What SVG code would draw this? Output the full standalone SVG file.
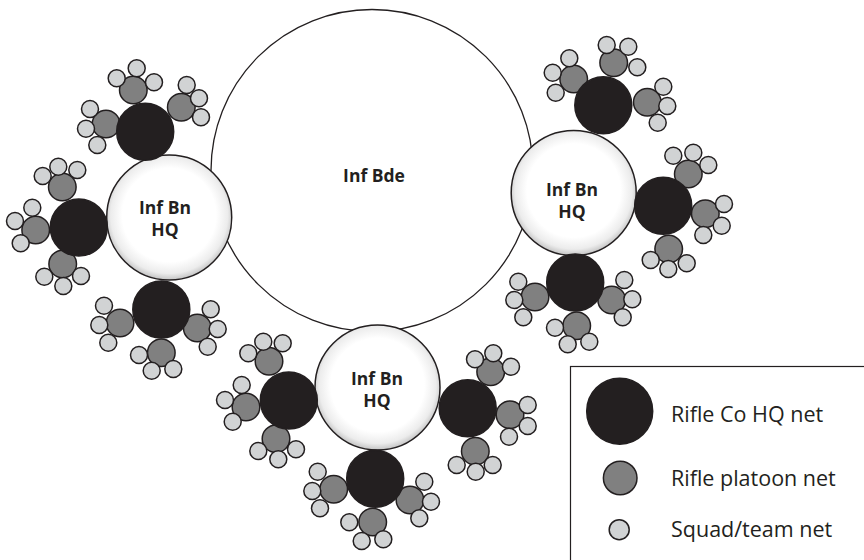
<svg xmlns="http://www.w3.org/2000/svg" width="864" height="560" viewBox="0 0 864 560">
<defs>
<radialGradient id="hqg" cx="50%" cy="48%" r="52%">
<stop offset="0" stop-color="#ffffff"/>
<stop offset="0.72" stop-color="#ffffff"/>
<stop offset="0.9" stop-color="#ececec"/>
<stop offset="1" stop-color="#c4c4c4"/>
</radialGradient>
<style>
.bde{fill:#ffffff;stroke:#231f20;stroke-width:1.3}
.hq{fill:url(#hqg);stroke:#231f20;stroke-width:1.5}
.co{fill:#231f20;stroke:#231f20;stroke-width:1.5}
.pl{fill:#808080;stroke:#231f20;stroke-width:1.5}
.sq{fill:#d1d3d4;stroke:#231f20;stroke-width:1.5}
.lb{font-family:"Open Sans","Noto Sans","Liberation Sans",sans-serif;font-weight:700;font-size:17.5px;fill:#231f20;text-anchor:middle}
.lg{font-family:"Open Sans","Noto Sans","Liberation Sans",sans-serif;font-size:21.5px;fill:#231f20}
</style>
</defs>
<rect width="864" height="560" fill="#ffffff"/>
<g id="connectors"/>
<g id="inf-bde">
<circle class="bde" cx="372" cy="170.5" r="161"/>
<text class="lb" x="374" y="181.5">Inf Bde</text>
</g>
<g id="hq-left">
<circle class="hq" cx="169.2" cy="217.5" r="62.5"/>
<text class="lb" x="165" y="214">Inf Bn</text>
<text class="lb" x="165" y="236">HQ</text>
</g>
<g id="hq-right">
<circle class="hq" cx="573.7" cy="193" r="62.5"/>
<text class="lb" x="572" y="195.5">Inf Bn</text>
<text class="lb" x="572" y="217.5">HQ</text>
</g>
<g id="hq-bottom">
<circle class="hq" cx="377.5" cy="387.5" r="62.5"/>
<text class="lb" x="377" y="385">Inf Bn</text>
<text class="lb" x="377" y="407">HQ</text>
</g>
<g id="co-L1">
<g id="pl-L1a"><circle class="pl" cx="133.3" cy="90" r="13.8"/><circle class="sq" cx="116.7" cy="78.3" r="8.5"/><circle class="sq" cx="136.7" cy="68.3" r="8.5"/><circle class="sq" cx="154" cy="82.3" r="8.5"/></g>
<g id="pl-L1b"><circle class="pl" cx="181.3" cy="107.3" r="13.8"/><circle class="sq" cx="186.7" cy="85" r="8.5"/><circle class="sq" cx="199" cy="98.3" r="8.5"/><circle class="sq" cx="201" cy="117.3" r="8.5"/></g>
<g id="pl-L1c"><circle class="pl" cx="106" cy="124" r="13.8"/><circle class="sq" cx="90" cy="109" r="8.5"/><circle class="sq" cx="86" cy="128.7" r="8.5"/><circle class="sq" cx="97.3" cy="145" r="8.5"/></g>
<circle class="co" cx="145.2" cy="131.7" r="28.5"/>
</g>
<g id="co-L2">
<g id="pl-L2a"><circle class="pl" cx="62.3" cy="187" r="13.8"/><circle class="sq" cx="42.7" cy="176" r="8.5"/><circle class="sq" cx="58.3" cy="166.7" r="8.5"/><circle class="sq" cx="77.3" cy="170" r="8.5"/></g>
<g id="pl-L2b"><circle class="pl" cx="35.7" cy="230" r="13.8"/><circle class="sq" cx="32.3" cy="207.7" r="8.5"/><circle class="sq" cx="15" cy="221" r="8.5"/><circle class="sq" cx="20.7" cy="243.3" r="8.5"/></g>
<g id="pl-L2c"><circle class="pl" cx="62.7" cy="264" r="13.8"/><circle class="sq" cx="44.3" cy="276.7" r="8.5"/><circle class="sq" cx="63.3" cy="286" r="8.5"/><circle class="sq" cx="81" cy="276" r="8.5"/></g>
<circle class="co" cx="78.8" cy="227.5" r="28.5"/>
</g>
<g id="co-L3">
<g id="pl-L3a"><circle class="pl" cx="120" cy="323" r="13.8"/><circle class="sq" cx="104" cy="305.7" r="8.5"/><circle class="sq" cx="99.3" cy="325" r="8.5"/><circle class="sq" cx="108.3" cy="342.7" r="8.5"/></g>
<g id="pl-L3b"><circle class="pl" cx="161.3" cy="352.7" r="13.8"/><circle class="sq" cx="139" cy="355" r="8.5"/><circle class="sq" cx="151.7" cy="370.7" r="8.5"/><circle class="sq" cx="173.3" cy="369" r="8.5"/></g>
<g id="pl-L3c"><circle class="pl" cx="197.3" cy="328" r="13.8"/><circle class="sq" cx="210.7" cy="309.3" r="8.5"/><circle class="sq" cx="217.7" cy="329" r="8.5"/><circle class="sq" cx="207.7" cy="346.7" r="8.5"/></g>
<circle class="co" cx="161.3" cy="309.5" r="28.5"/>
</g>
<g id="co-R1">
<g id="pl-R1a"><circle class="pl" cx="573.7" cy="79" r="13.8"/><circle class="sq" cx="569.3" cy="58.3" r="8.5"/><circle class="sq" cx="552.7" cy="72.7" r="8.5"/><circle class="sq" cx="555.7" cy="92.7" r="8.5"/></g>
<g id="pl-R1b"><circle class="pl" cx="613.7" cy="62.7" r="13.8"/><circle class="sq" cx="606.7" cy="45" r="8.5"/><circle class="sq" cx="628.3" cy="46.7" r="8.5"/><circle class="sq" cx="637.3" cy="67.3" r="8.5"/></g>
<g id="pl-R1c"><circle class="pl" cx="647.3" cy="102.3" r="13.8"/><circle class="sq" cx="663.3" cy="86.7" r="8.5"/><circle class="sq" cx="667.3" cy="106" r="8.5"/><circle class="sq" cx="657.7" cy="122.7" r="8.5"/></g>
<circle class="co" cx="603.3" cy="105.3" r="28.5"/>
</g>
<g id="co-R2">
<g id="pl-R2a"><circle class="pl" cx="688.3" cy="174" r="13.8"/><circle class="sq" cx="673.3" cy="155.7" r="8.5"/><circle class="sq" cx="693.3" cy="152.7" r="8.5"/><circle class="sq" cx="708.3" cy="165" r="8.5"/></g>
<g id="pl-R2b"><circle class="pl" cx="705.3" cy="213.7" r="13.8"/><circle class="sq" cx="724" cy="204" r="8.5"/><circle class="sq" cx="721.7" cy="225.7" r="8.5"/><circle class="sq" cx="703.3" cy="235" r="8.5"/></g>
<g id="pl-R2c"><circle class="pl" cx="668.7" cy="249" r="13.8"/><circle class="sq" cx="650.7" cy="260" r="8.5"/><circle class="sq" cx="668.3" cy="269" r="8.5"/><circle class="sq" cx="686.7" cy="263.3" r="8.5"/></g>
<circle class="co" cx="663.2" cy="205.8" r="28.5"/>
</g>
<g id="co-R3">
<g id="pl-R3a"><circle class="pl" cx="535" cy="297" r="13.8"/><circle class="sq" cx="518.3" cy="281.7" r="8.5"/><circle class="sq" cx="514.3" cy="300" r="8.5"/><circle class="sq" cx="523.3" cy="317.3" r="8.5"/></g>
<g id="pl-R3b"><circle class="pl" cx="576.7" cy="325.7" r="13.8"/><circle class="sq" cx="555" cy="327.7" r="8.5"/><circle class="sq" cx="567.7" cy="344.3" r="8.5"/><circle class="sq" cx="589.3" cy="341.7" r="8.5"/></g>
<g id="pl-R3c"><circle class="pl" cx="611.7" cy="300" r="13.8"/><circle class="sq" cx="624.3" cy="280" r="8.5"/><circle class="sq" cx="632.3" cy="299.3" r="8.5"/><circle class="sq" cx="622.7" cy="317.3" r="8.5"/></g>
<circle class="co" cx="575.2" cy="282.5" r="28.5"/>
</g>
<g id="co-B1">
<g id="pl-B1a"><circle class="pl" cx="269" cy="361.3" r="13.8"/><circle class="sq" cx="248.3" cy="353.3" r="8.5"/><circle class="sq" cx="263.3" cy="341.7" r="8.5"/><circle class="sq" cx="282.7" cy="343.3" r="8.5"/></g>
<g id="pl-B1b"><circle class="pl" cx="246" cy="407" r="13.8"/><circle class="sq" cx="241.7" cy="385" r="8.5"/><circle class="sq" cx="225" cy="400" r="8.5"/><circle class="sq" cx="232.7" cy="421.7" r="8.5"/></g>
<g id="pl-B1c"><circle class="pl" cx="276" cy="438.7" r="13.8"/><circle class="sq" cx="258.3" cy="451" r="8.5"/><circle class="sq" cx="278.3" cy="459.3" r="8.5"/><circle class="sq" cx="296" cy="449.3" r="8.5"/></g>
<circle class="co" cx="288.8" cy="400.5" r="28.5"/>
</g>
<g id="co-B2">
<g id="pl-B2a"><circle class="pl" cx="490.7" cy="371.7" r="13.8"/><circle class="sq" cx="475" cy="359.3" r="8.5"/><circle class="sq" cx="493.3" cy="353.3" r="8.5"/><circle class="sq" cx="511" cy="366.7" r="8.5"/></g>
<g id="pl-B2b"><circle class="pl" cx="510" cy="414.7" r="13.8"/><circle class="sq" cx="527.7" cy="405" r="8.5"/><circle class="sq" cx="527.7" cy="426" r="8.5"/><circle class="sq" cx="509" cy="436.7" r="8.5"/></g>
<g id="pl-B2c"><circle class="pl" cx="475.3" cy="451.3" r="13.8"/><circle class="sq" cx="456.7" cy="465" r="8.5"/><circle class="sq" cx="475.7" cy="471.7" r="8.5"/><circle class="sq" cx="492.7" cy="465" r="8.5"/></g>
<circle class="co" cx="467.7" cy="408.3" r="28.5"/>
</g>
<g id="co-B3">
<g id="pl-B3a"><circle class="pl" cx="333.7" cy="489.3" r="13.8"/><circle class="sq" cx="317.7" cy="471.7" r="8.5"/><circle class="sq" cx="312.3" cy="491" r="8.5"/><circle class="sq" cx="320" cy="508.3" r="8.5"/></g>
<g id="pl-B3b"><circle class="pl" cx="372.7" cy="522" r="13.8"/><circle class="sq" cx="349.3" cy="522.3" r="8.5"/><circle class="sq" cx="361.7" cy="541" r="8.5"/><circle class="sq" cx="383.3" cy="539.3" r="8.5"/></g>
<g id="pl-B3c"><circle class="pl" cx="410" cy="500" r="13.8"/><circle class="sq" cx="424.3" cy="481.7" r="8.5"/><circle class="sq" cx="431" cy="501.7" r="8.5"/><circle class="sq" cx="419.3" cy="518.3" r="8.5"/></g>
<circle class="co" cx="375.2" cy="478.8" r="28.5"/>
</g>
<g id="legend">
<rect x="570.5" y="366.5" width="310" height="210" fill="#ffffff" stroke="#231f20" stroke-width="1.2"/>
<g id="legend-co"><circle class="co" cx="619.7" cy="411.2" r="33"/><text class="lg" x="671" y="421.5">Rifle Co HQ net</text></g>
<g id="legend-pl"><circle class="pl" cx="620.2" cy="478" r="16.8"/><text class="lg" x="671" y="485.5">Rifle platoon net</text></g>
<g id="legend-sq"><circle class="sq" cx="619.2" cy="529.7" r="10"/><text class="lg" x="671" y="537">Squad/team net</text></g>
</g>
</svg>
